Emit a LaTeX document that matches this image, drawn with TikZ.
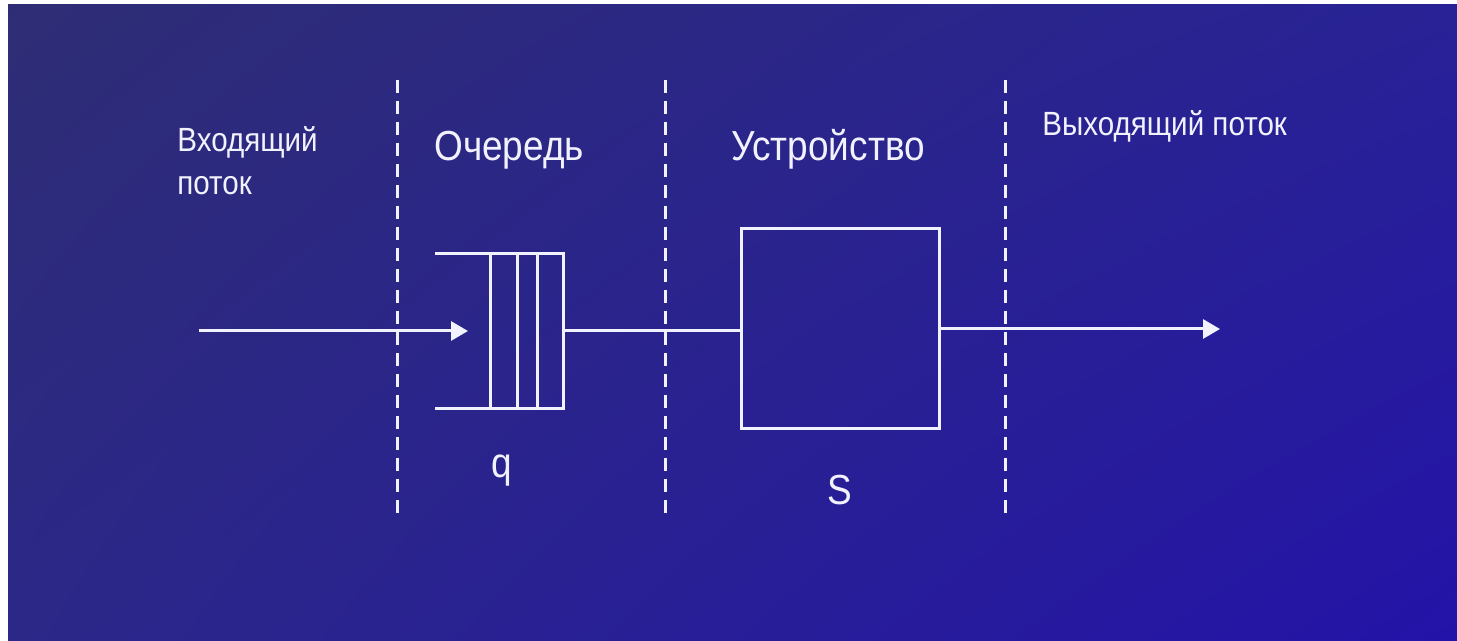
\documentclass[tikz,border=0pt]{standalone}
\usepackage{fontspec}
\usepackage{graphicx}
\setmainfont{Liberation Sans}
\usetikzlibrary{arrows.meta,shadings}

% horizontally narrowed lettering
\newcommand{\narrowtxt}[1]{\scalebox{0.88}[1]{#1}}

\definecolor{bgUL}{RGB}{46,45,116}
\definecolor{bgUR}{RGB}{40,34,150}
\definecolor{bgLL}{RGB}{43,40,136}
\definecolor{bgLR}{RGB}{36,19,168}
\definecolor{ink}{RGB}{242,242,255}

\tikzset{
  wire/.style={draw=ink, line width=1.5pt},
  flowarrow/.style={wire, -{Triangle[length=8.5pt,width=9.5pt]}},
  divider/.style={draw=ink, line width=1.5pt, dash pattern=on 6.5pt off 4pt},
  smalllbl/.style={text=ink, inner sep=0pt, anchor=base west, font=\fontsize{16.8pt}{20pt}\selectfont},
  biglbl/.style={text=ink, inner sep=0pt, anchor=base west, font=\fontsize{21pt}{25pt}\selectfont},
  cellbox/.style={wire, rectangle, inner sep=0pt, outer sep=0pt},
}

\begin{document}
\begin{tikzpicture}[x=0.5pt, y=-0.5pt]
  \useasboundingbox (0,0) rectangle (1457,641);
  \fill[white] (0,0) rectangle (1457,641);
  \shade[upper left=bgUL, upper right=bgUR, lower left=bgLL, lower right=bgLR]
    (8,5) rectangle (1457,641);

  % section dividers
  \draw[divider] (397,80) -- (397,515);
  \draw[divider] (665,80) -- (665,515);
  \draw[divider] (1005,80) -- (1005,515);

  % headings
  \node[smalllbl] (inA) at (177,152) {\narrowtxt{Входящий}};
  \node[smalllbl] (inB) at (177,195) {\narrowtxt{поток}};
  \node[biglbl] (qhead) at (434,161) {\narrowtxt{Очередь}};
  \node[biglbl] (dhead) at (731,161) {\narrowtxt{Устройство}};
  \node[smalllbl] (outhead) at (1042,136) {\narrowtxt{Выходящий поток}};

  % queue: last cell as a node, open slots drawn to its left
  \node[cellbox, minimum width=36.5pt, minimum height=77.5pt] (queue) at (526.5,331) {};
  \draw[wire] (435,253.5) -- (queue.north west);
  \draw[wire] (435,408.5) -- (queue.south west);
  \draw[wire] (517,253.5) -- (517,408.5);
  \draw[wire] (537,253.5) -- (537,408.5);

  % service device
  \node[cellbox, minimum width=99pt, minimum height=100pt] (device) at (840,329) {};

  % flow
  \coordinate (src) at (199,331);
  \coordinate (qin) at (468,331);
  \coordinate (sink) at (1220,329);
  \draw[flowarrow] (src) -- (qin);
  \draw[wire] (queue.east) -- (queue.east -| device.west);
  \draw[flowarrow] (device.east) -- (sink);

  % symbols
  \node[biglbl] (qsym) at (491,478) {\narrowtxt{q}};
  \node[biglbl] (ssym) at (827,505) {\narrowtxt{S}};
\end{tikzpicture}
\end{document}
